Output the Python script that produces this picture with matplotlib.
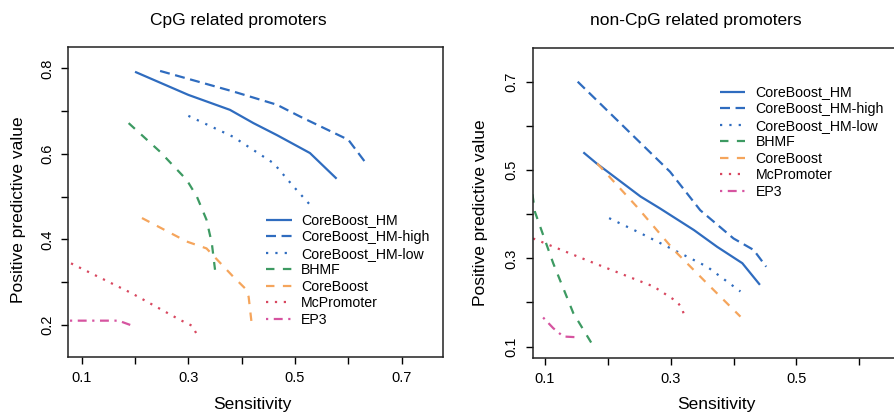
import matplotlib
matplotlib.use("Agg")
import matplotlib.pyplot as plt

plt.rcParams['font.family'] = ['Liberation Sans', 'DejaVu Sans']

# ---------------- data: CpG related promoters ----------------
cpg_hm_x = [0.200, 0.300, 0.378, 0.422, 0.466, 0.528, 0.578]
cpg_hm_y = [0.792, 0.738, 0.703, 0.672, 0.644, 0.602, 0.542]
cpg_high_x = [0.247, 0.384, 0.466, 0.510, 0.600, 0.632]
cpg_high_y = [0.794, 0.746, 0.715, 0.687, 0.633, 0.580]
cpg_low_x = [0.300, 0.384, 0.460, 0.497, 0.531]
cpg_low_y = [0.689, 0.640, 0.578, 0.524, 0.477]
cpg_bhmf_x = [0.188, 0.247, 0.297, 0.316, 0.334, 0.344, 0.350]
cpg_bhmf_y = [0.672, 0.605, 0.539, 0.500, 0.446, 0.391, 0.329]
cpg_cb_x = [0.213, 0.297, 0.334, 0.384, 0.406, 0.413, 0.419]
cpg_cb_y = [0.450, 0.395, 0.379, 0.313, 0.286, 0.266, 0.200]
cpg_mc_x = [0.080, 0.194, 0.284, 0.307, 0.319]
cpg_mc_y = [0.344, 0.274, 0.212, 0.198, 0.171]
cpg_ep3_x = [0.078, 0.169, 0.191]
cpg_ep3_y = [0.210, 0.210, 0.200]

# ---------------- data: non-CpG related promoters ----------------
non_hm_x = [0.161, 0.182, 0.252, 0.283, 0.337, 0.374, 0.414, 0.442]
non_hm_y = [0.540, 0.515, 0.440, 0.413, 0.364, 0.326, 0.289, 0.240]
non_high_x = [0.152, 0.299, 0.347, 0.400, 0.432, 0.452]
non_high_y = [0.700, 0.496, 0.409, 0.345, 0.319, 0.281]
non_low_x = [0.202, 0.252, 0.305, 0.358, 0.411]
non_low_y = [0.391, 0.357, 0.319, 0.281, 0.225]
non_bhmf_x = [0.080, 0.084, 0.113, 0.145, 0.174]
non_bhmf_y = [0.445, 0.405, 0.289, 0.176, 0.108]
non_cb_x = [0.183, 0.246, 0.305, 0.358, 0.411]
non_cb_y = [0.515, 0.417, 0.319, 0.243, 0.168]
non_mc_x = [0.081, 0.166, 0.273, 0.310, 0.318, 0.322]
non_mc_y = [0.345, 0.296, 0.236, 0.202, 0.187, 0.168]
non_ep3_x = [0.097, 0.113, 0.129, 0.155]
non_ep3_y = [0.166, 0.142, 0.123, 0.121]

labels = ['CoreBoost_HM', 'CoreBoost_HM-high', 'CoreBoost_HM-low',
          'BHMF', 'CoreBoost', 'McPromoter', 'EP3']
colors = ['#2f6cbf', '#2f6cbf', '#2f6cbf', '#3d9a62', '#f5a55c', '#d8475f', '#d654a0']
styles = ['-', (0, (4.5, 2.5)), (0, (1, 3.2)), (0, (3.8, 3.8)), (0, (3.8, 3.8)),
          (0, (1, 3.0)), (0, (1, 2.5, 4, 2.5))]

W, H = 894, 413
fig = plt.figure(figsize=(W / 100, H / 100), dpi=100)


def px(x0, y0, x1, y1):
    return [x0 / W, 1 - y1 / H, (x1 - x0) / W, (y1 - y0) / H]


def style_axes(ax, xt, xl, yt, yl):
    ax.set_xticks(xt)
    ax.set_xticklabels(xl)
    ax.set_yticks(yt)
    ax.set_yticklabels(yl, rotation=90, va='center')
    ax.tick_params(direction='out', length=5, width=1.0, pad=5,
                   labelsize=10.5, colors='black')
    for s in ax.spines.values():
        s.set_linewidth(1.1)
        s.set_color('#222222')


def draw(ax, data):
    for (x, y), lab, c, ls in zip(data, labels, colors, styles):
        ax.plot(x, y, color=c, linestyle=ls, lw=1.6, label=lab,
                dash_capstyle='butt', solid_capstyle='butt')


# left panel
ax1 = fig.add_axes(px(68, 47, 443, 357))
draw(ax1, [(cpg_hm_x, cpg_hm_y), (cpg_high_x, cpg_high_y), (cpg_low_x, cpg_low_y),
           (cpg_bhmf_x, cpg_bhmf_y), (cpg_cb_x, cpg_cb_y), (cpg_mc_x, cpg_mc_y),
           (cpg_ep3_x, cpg_ep3_y)])
ax1.set_xlim(0.0743, 0.7775)
ax1.set_ylim(0.125, 0.85)
style_axes(ax1, [0.1, 0.2, 0.3, 0.4, 0.5, 0.6, 0.7],
           ['0.1', '', '0.3', '', '0.5', '', '0.7'],
           [0.2, 0.3, 0.4, 0.5, 0.6, 0.7, 0.8],
           ['0.2', '', '0.4', '', '0.6', '', '0.8'])
ax1.legend(loc='upper left', bbox_to_anchor=(265.7 / W, 1 - 213.5 / H),
           bbox_transform=fig.transFigure, frameon=False, fontsize=10.2,
           handlelength=1.85, handletextpad=0.65, labelspacing=0.18,
           borderpad=0, borderaxespad=0)

# right panel
ax2 = fig.add_axes(px(532.7, 48.3, 905, 357.7))
draw(ax2, [(non_hm_x, non_hm_y), (non_high_x, non_high_y), (non_low_x, non_low_y),
           (non_bhmf_x, non_bhmf_y), (non_cb_x, non_cb_y), (non_mc_x, non_mc_y),
           (non_ep3_x, non_ep3_y)])
ax2.set_xlim(0.0804, 0.6729)
ax2.set_ylim(0.075, 0.7756)
style_axes(ax2, [0.1, 0.2, 0.3, 0.4, 0.5, 0.6],
           ['0.1', '', '0.3', '', '0.5', ''],
           [0.1, 0.2, 0.3, 0.4, 0.5, 0.6, 0.7],
           ['0.1', '', '0.3', '', '0.5', '', '0.7'])
ax2.legend(loc='upper left', bbox_to_anchor=(720 / W, 1 - 85.5 / H),
           bbox_transform=fig.transFigure, frameon=False, fontsize=10.2,
           handlelength=1.75, handletextpad=0.75, labelspacing=0.18,
           borderpad=0, borderaxespad=0)

# titles and axis labels
fig.text(238 / W, 1 - 21 / H, 'CpG related promoters', ha='center', va='center', fontsize=12.5)
fig.text(695.5 / W, 1 - 21 / H, 'non-CpG related promoters', ha='center', va='center', fontsize=12.5)
fig.text(18.5 / W, 1 - 210 / H, 'Positive predictive value', rotation=90,
         ha='center', va='center', fontsize=12.5)
fig.text(480 / W, 1 - 213 / H, 'Positive predictive value', rotation=90,
         ha='center', va='center', fontsize=12.5)
fig.text(252.5 / W, 1 - 405 / H, 'Sensitivity', ha='center', va='center', fontsize=12.5)
fig.text(716 / W, 1 - 405 / H, 'Sensitivity', ha='center', va='center', fontsize=12.5)

fig.savefig('out.png', dpi=100)
